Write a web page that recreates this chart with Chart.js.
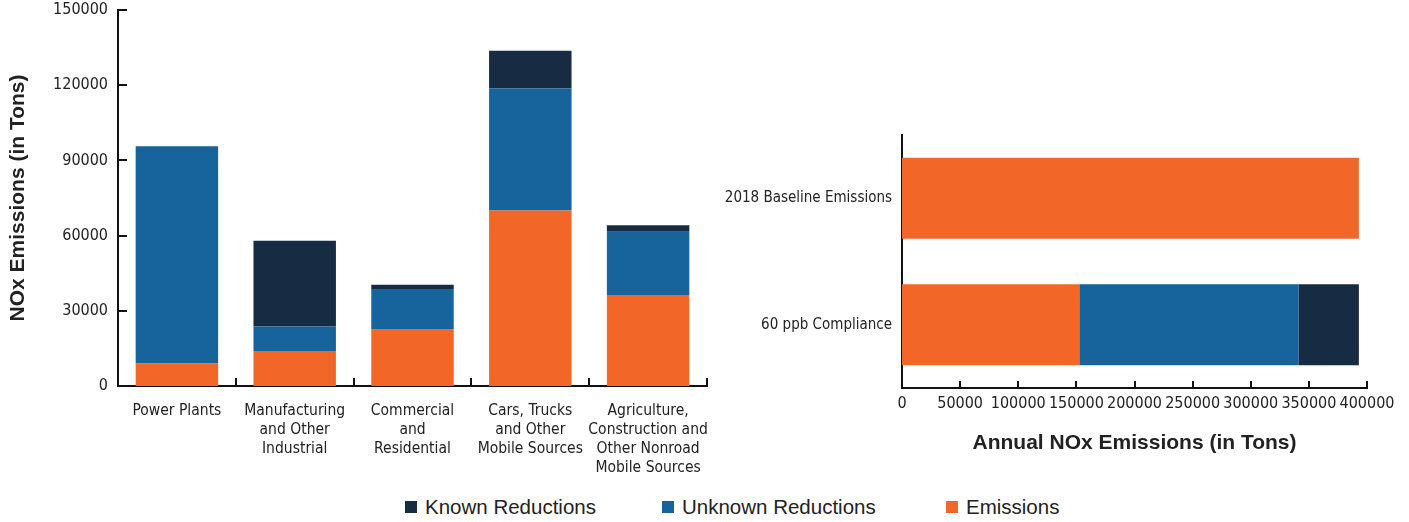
<!DOCTYPE html>
<html>
<head>
<meta charset="utf-8">
<script src="https://cdn.jsdelivr.net/npm/chart.js@4.4.1/dist/chart.umd.min.js"></script>
<style>
  html, body { margin: 0; padding: 0; background: #fff; }
  body { width: 1409px; height: 522px; position: relative; overflow: hidden; }
  #left { position: absolute; left: 0; top: 0; width: 715px; height: 480px; }
  #right { position: absolute; left: 715px; top: 0; width: 694px; height: 456px; }
  #legend { position: absolute; left: 0; top: 494px; width: 1409px; height: 28px; font-family: 'Liberation Sans', Arial, sans-serif; font-size: 20.5px; color: #222; }
  .li { position: absolute; top: 0; display: flex; align-items: center; height: 26px; }
  .sw { width: 12px; height: 12px; margin-right: 8px; }
</style>
</head>
<body>
<div id="left"><canvas id="c1"></canvas></div>
<div id="right"><canvas id="c2"></canvas></div>
<div id="legend"></div>
<script>
// ---------- data ----------
const sectorLabels = [
  ["Power Plants"],
  ["Manufacturing", "and Other", "Industrial"],
  ["Commercial", "and", "Residential"],
  ["Cars, Trucks", "and Other", "Mobile Sources"],
  ["Agriculture,", "Construction and", "Other Nonroad", "Mobile Sources"]
];
const sectorEmissions = [9000, 14000, 22700, 70000, 36300];
const sectorUnknown   = [86600, 9750, 16000, 48700, 25200];
const sectorKnown     = [0, 34150, 1700, 15000, 2600];

const scenarioLabels = ["2018 Baseline Emissions", "60 ppb Compliance"];
const scenarioEmissions = [393000, 152500];
const scenarioUnknown   = [0, 188500];
const scenarioKnown     = [0, 52000];

const seriesNames = ["Known Reductions", "Unknown Reductions", "Emissions"];
const leftTicks  = [0, 30000, 60000, 90000, 120000, 150000];
const rightTicks = [0, 50000, 100000, 150000, 200000, 250000, 300000, 350000, 400000];

// ---------- styles ----------
const COL_KNOWN = '#172c42', COL_UNK = '#16649b', COL_EMI = '#f26727';
const NARROW = "'Liberation Sans Narrow', 'DejaVu Sans Condensed', 'Roboto Condensed', Arial, sans-serif";
const BOLD = "'Liberation Sans', Arial, sans-serif";
Chart.defaults.color = '#222';
Chart.defaults.animation = false;
const plain = v => String(v);
const noPad = s => { s.paddingTop = 0; s.paddingBottom = 0; s.paddingLeft = 0; s.paddingRight = 0; };

const inwardTicks = {
  id: 'inwardTicks',
  afterDraw(chart, args, opts) {
    const ctx = chart.ctx;
    const ca = chart.chartArea;
    ctx.save();
    ctx.strokeStyle = '#111';
    ctx.lineWidth = 2;
    if (opts.mode === 'left') {
      const y = chart.scales.y, x = chart.scales.x;
      y.ticks.forEach(t => {
        if (t.value === 0) return;
        const py = Math.round(y.getPixelForValue(t.value));
        ctx.beginPath(); ctx.moveTo(ca.left, py); ctx.lineTo(ca.left + 9, py); ctx.stroke();
      });
      const n = chart.data.labels.length;
      for (let i = 0; i < n; i++) {
        let px = i < n - 1 ? (x.getPixelForValue(i) + x.getPixelForValue(i + 1)) / 2 : ca.right;
        px = Math.round(px);
        ctx.beginPath(); ctx.moveTo(px, ca.bottom); ctx.lineTo(px, ca.bottom - 8); ctx.stroke();
      }
    } else {
      const x = chart.scales.x;
      x.ticks.forEach(t => {
        if (t.value === 0) return;
        const px = Math.round(x.getPixelForValue(t.value));
        ctx.beginPath(); ctx.moveTo(px, ca.bottom); ctx.lineTo(px, ca.bottom - 7); ctx.stroke();
      });
    }
    ctx.restore();
  }
};

function mkDatasets(emi, unk, kn, bp) {
  return [
    { label: seriesNames[2], data: emi, backgroundColor: COL_EMI, barPercentage: bp, categoryPercentage: 1 },
    { label: seriesNames[1], data: unk, backgroundColor: COL_UNK, barPercentage: bp, categoryPercentage: 1 },
    { label: seriesNames[0], data: kn,  backgroundColor: COL_KNOWN, barPercentage: bp, categoryPercentage: 1 }
  ];
}

new Chart(document.getElementById('c1'), {
  type: 'bar',
  data: { labels: sectorLabels, datasets: mkDatasets(sectorEmissions, sectorUnknown, sectorKnown, 0.7) },
  plugins: [inwardTicks],
  options: {
    responsive: true, maintainAspectRatio: false,
    layout: { padding: { top: 10, right: 8, left: 0, bottom: 0 } },
    plugins: { legend: { display: false }, tooltip: { enabled: false }, inwardTicks: { mode: 'left' } },
    scales: {
      x: {
        stacked: true,
        grid: { display: false, drawTicks: false },
        border: { display: true, color: '#111', width: 2 },
        ticks: { font: { family: NARROW, size: 15.5, lineHeight: 1.22 }, color: '#222', padding: 16, maxRotation: 0, autoSkip: false },
        afterFit(s) { s.height = 94; noPad(s); }
      },
      y: {
        stacked: true, min: 0, max: 150000,
        afterBuildTicks(s) { s.ticks = leftTicks.map(v => ({ value: v })); },
        grid: { display: false, drawTicks: false },
        border: { display: true, color: '#111', width: 2 },
        ticks: { font: { family: NARROW, size: 16 }, color: '#222', padding: 10, callback: plain },
        title: { display: true, text: 'NOx Emissions (in Tons)', font: { family: BOLD, size: 21, weight: 'bold' }, color: '#222', padding: { top: 6, bottom: 0 } },
        afterFit(s) { s.width = 118; noPad(s); }
      }
    }
  }
});

new Chart(document.getElementById('c2'), {
  type: 'bar',
  data: { labels: scenarioLabels, datasets: mkDatasets(scenarioEmissions, scenarioUnknown, scenarioKnown, 0.64) },
  plugins: [inwardTicks],
  options: {
    indexAxis: 'y',
    responsive: true, maintainAspectRatio: false,
    layout: { padding: { top: 135, right: 42, left: 0, bottom: 0 } },
    plugins: { legend: { display: false }, tooltip: { enabled: false }, inwardTicks: { mode: 'right' } },
    scales: {
      x: {
        stacked: true, min: 0, max: 400000,
        afterBuildTicks(s) { s.ticks = rightTicks.map(v => ({ value: v })); },
        grid: { display: false, drawTicks: false },
        border: { display: true, color: '#111', width: 2 },
        ticks: { font: { family: NARROW, size: 16 }, color: '#222', padding: 6, maxRotation: 0, autoSkip: false, callback: plain },
        title: { display: true, text: 'Annual NOx Emissions (in Tons)', font: { family: BOLD, size: 21, weight: 'bold' }, color: '#222', padding: { top: 10, bottom: 0 } },
        afterFit(s) { s.height = 68; noPad(s); }
      },
      y: {
        stacked: true,
        grid: { display: false, drawTicks: false },
        border: { display: true, color: '#111', width: 2 },
        ticks: { font: { family: NARROW, size: 15 }, color: '#222', padding: 10 },
        afterFit(s) { s.width = 187; noPad(s); }
      }
    }
  }
});

// legend built from series names
const legendColors = [COL_KNOWN, COL_UNK, COL_EMI];
const legendLeft = [405, 662, 946];
const lg = document.getElementById('legend');
seriesNames.forEach((name, i) => {
  const d = document.createElement('div');
  d.className = 'li';
  d.style.left = legendLeft[i] + 'px';
  const sw = document.createElement('span');
  sw.className = 'sw';
  sw.style.background = legendColors[i];
  const tx = document.createElement('span');
  tx.textContent = name;
  d.appendChild(sw); d.appendChild(tx);
  lg.appendChild(d);
});
</script>
</body>
</html>
